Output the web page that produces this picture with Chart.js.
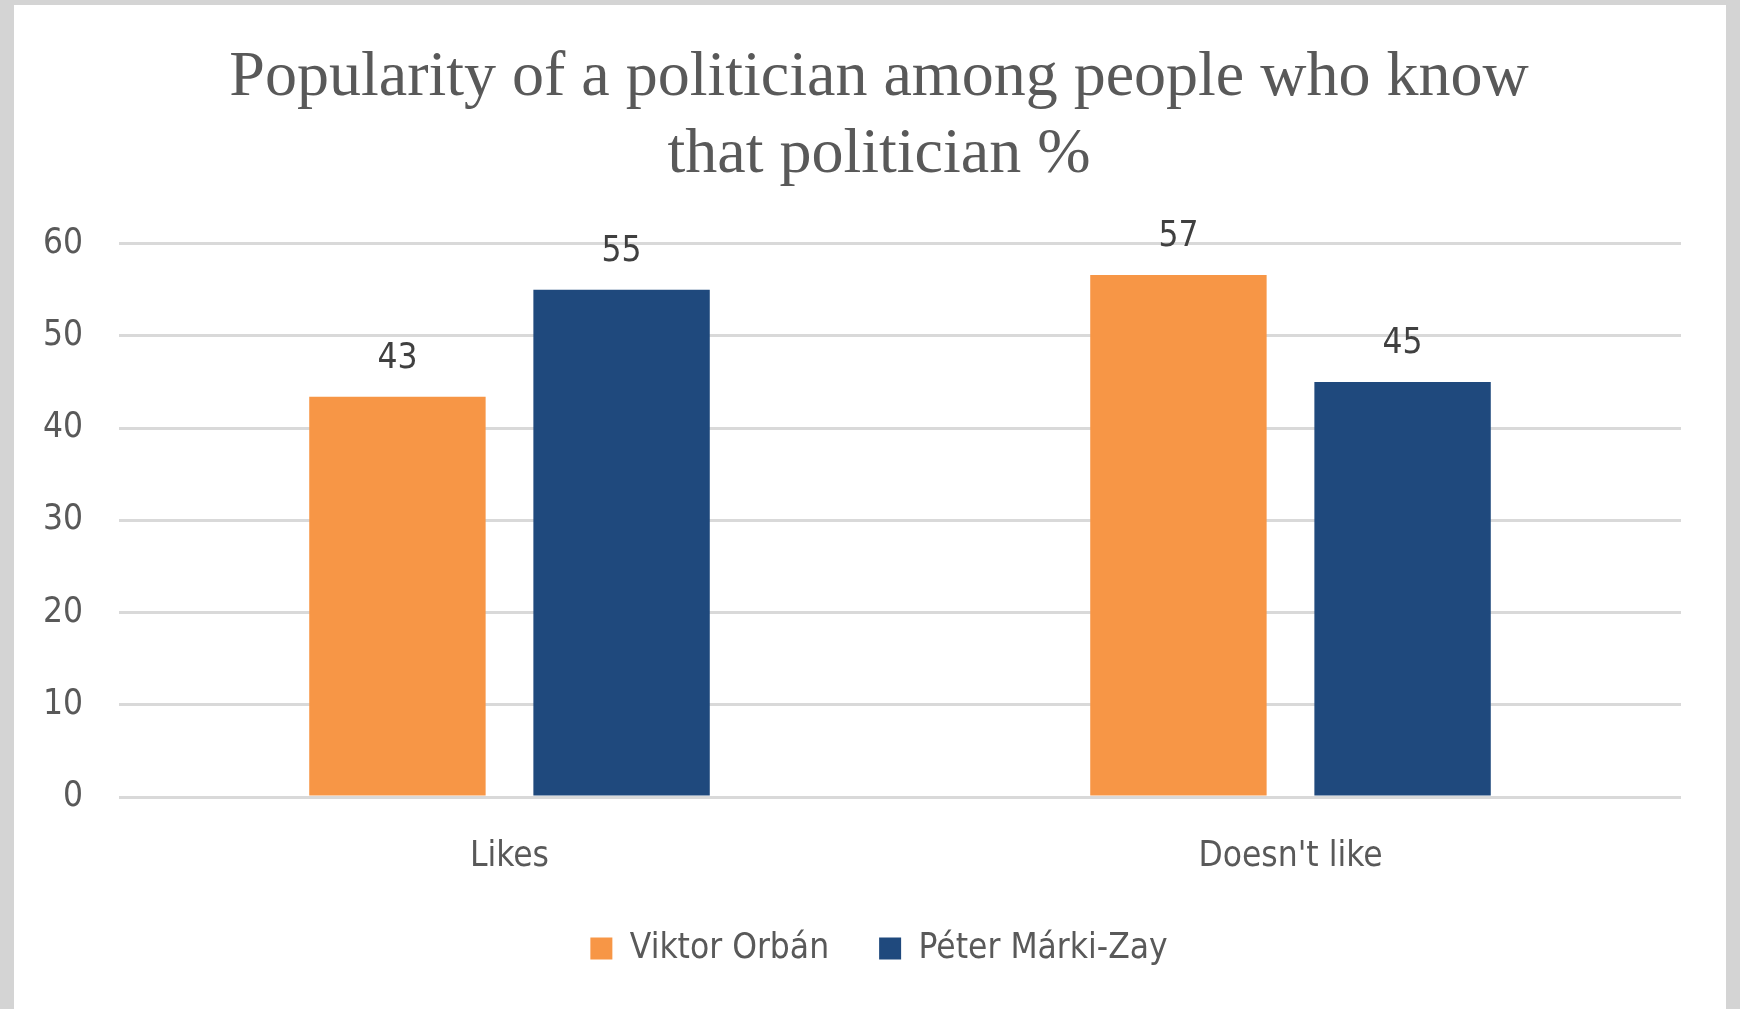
<!DOCTYPE html>
<html>
<head>
<meta charset="utf-8">
<script src="https://cdn.jsdelivr.net/npm/chart.js@4.4.0/dist/chart.umd.min.js"></script>
<style>
    body { margin: 0; background: #d4d4d4; width: 1740px; height: 1009px; overflow: hidden; }
    #chart-bg { position: absolute; left: 14px; top: 5px; width: 1712px; height: 1004px; background: #fff; }
    #chart-box { position: absolute; left: 14px; top: 5px; width: 1730px; height: 1004px; }
</style>
</head>
<body>
<div id="chart-bg"></div>
<div id="chart-box"><canvas id="popChart"></canvas></div>
<script>
// Chart data
const categories = ['Likes', "Doesn't like"];
const orbanValues = [43.4, 56.6];
const markiZayValues = [55, 45];
const seriesNames = ['Viktor Orbán', 'Péter Márki-Zay'];
const titleLines = ['Popularity of a politician among people who know', 'that politician %'];

const sansFont = '"DejaVu Sans Condensed", "Liberation Sans Narrow", sans-serif';

// Value labels above each bar
const barLabels = {
    id: 'barLabels',
    afterDatasetsDraw(chart) {
        const ctx = chart.ctx;
        ctx.save();
        ctx.font = '35px ' + sansFont;
        ctx.fillStyle = '#404040';
        ctx.textAlign = 'center';
        ctx.textBaseline = 'alphabetic';
        chart.data.datasets.forEach((ds, i) => {
            chart.getDatasetMeta(i).data.forEach((bar, j) => {
                ctx.fillText(Math.round(ds.data[j]), bar.x, bar.y - 29);
            });
        });
        ctx.restore();
    }
};

const ctx = document.getElementById('popChart').getContext('2d');
new Chart(ctx, {
    type: 'bar',
    data: {
        labels: categories,
        datasets: [
            {
                label: seriesNames[0],
                data: orbanValues,
                backgroundColor: '#F79646',
                categoryPercentage: 0.574,
                barPercentage: 0.787
            },
            {
                label: seriesNames[1],
                data: markiZayValues,
                backgroundColor: '#1F497D',
                categoryPercentage: 0.574,
                barPercentage: 0.787
            }
        ]
    },
    options: {
        responsive: true,
        maintainAspectRatio: false,
        animation: false,
        layout: { padding: { left: 0, right: 0, top: 0, bottom: 33 } },
        plugins: {
            title: {
                display: true,
                text: titleLines,
                color: '#595959',
                font: { family: '"Liberation Serif", serif', size: 64, weight: 'normal', lineHeight: 1.2 },
                padding: { top: 35, bottom: 50 }
            },
            legend: {
                position: 'bottom',
                labels: {
                    color: '#595959',
                    font: { family: sansFont, size: 35 },
                    boxWidth: 22,
                    boxHeight: 22,
                    padding: 50
                }
            },
            tooltip: { enabled: false }
        },
        scales: {
            x: {
                grid: { display: false, drawTicks: false },
                border: { display: false },
                ticks: { color: '#595959', font: { family: sansFont, size: 35 }, padding: 39 },
                afterFit(scale) { scale.height = 84; }
            },
            y: {
                min: 0,
                max: 60,
                ticks: { stepSize: 10, color: '#595959', font: { family: sansFont, size: 35 }, padding: 36 },
                grid: { color: '#d9d9d9', lineWidth: 3, drawTicks: false },
                border: { display: false },
                afterFit(scale) { scale.width = 105; }
            },
            // empty right margin so title and legend centre like the original
            yRight: {
                position: 'right',
                grid: { display: false, drawTicks: false },
                border: { display: false },
                ticks: { display: false },
                afterFit(scale) { scale.width = 63; }
            }
        }
    },
    plugins: [barLabels]
});
</script>
</body>
</html>
